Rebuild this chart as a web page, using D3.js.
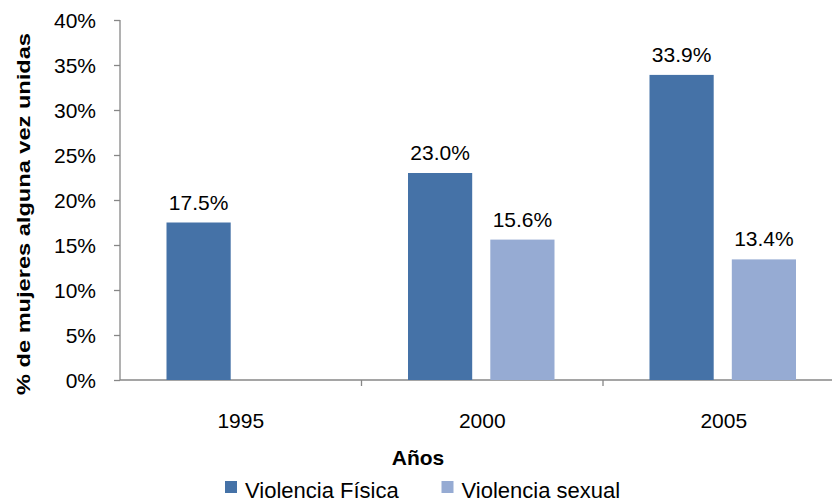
<!DOCTYPE html>
<html>
<head>
<meta charset="utf-8">
<style>
    body { margin: 0; background: white; }
    svg { display: block; font-family: "Liberation Sans", Arial, sans-serif; }
    .axis path, .axis line { stroke: #878787; stroke-width: 1.3; }
    .axis text { fill: #000; font-size: 21px; }
</style>
</head>
<body>
<svg width="832" height="499"></svg>
<script src="https://d3js.org/d3.v7.min.js"></script>
<script>
    var years = ["1995", "2000", "2005"];
    var series = ["Violencia Física", "Violencia sexual"];
    var fisica = [17.5, 23.0, 33.9];
    var sexual = [null, 15.6, 13.4];
    var yTicks = [0, 5, 10, 15, 20, 25, 30, 35, 40];
    var colors = ["#4572a7", "#96abd3"];

    var svg = d3.select("svg");

    var plotLeft = 120, plotBottom = 380, plotTop = 20, plotRight = 844.5;

    var xScale = d3.scaleBand().domain(years).range([plotLeft, plotRight]);
    var inner = d3.scaleBand().domain(series).range([46.5, 193]).paddingInner(0.22);
    var yScale = d3.scaleLinear().domain([0, 40]).range([plotBottom, plotTop]);

    var rows = years.map(function(y, i) {
        return { year: y, values: [fisica[i], sexual[i]] };
    });

    // y axis
    var yAxis = d3.axisLeft(yScale)
        .tickValues(yTicks)
        .tickSize(6)
        .tickPadding(18)
        .tickFormat(function(d) { return d + "%"; });
    var gy = svg.append("g").attr("class", "axis")
        .attr("transform", "translate(" + plotLeft + ",0)")
        .call(yAxis);
    gy.select(".domain").attr("d", "M0," + plotTop + "V" + plotBottom);
    gy.selectAll("text").attr("dy", "0.36em");

    // x axis (ticks at category boundaries)
    var gx = svg.append("g").attr("class", "axis")
        .attr("transform", "translate(0," + plotBottom + ")");
    gx.append("line").attr("x1", plotLeft).attr("x2", plotRight).attr("y1", 0).attr("y2", 0);
    gx.selectAll("line.tk").data(years)
        .enter().append("line").attr("class", "tk")
        .attr("x1", function(d) { return xScale(d) + xScale.step(); })
        .attr("x2", function(d) { return xScale(d) + xScale.step(); })
        .attr("y1", 0).attr("y2", 6);
    gx.selectAll("text").data(years).enter().append("text")
        .attr("x", function(d) { return xScale(d) + xScale.bandwidth() / 2; })
        .attr("y", 48)
        .attr("text-anchor", "middle")
        .text(function(d) { return d; });

    // bars
    var groups = svg.selectAll(".grp").data(rows).enter().append("g")
        .attr("class", "grp")
        .attr("transform", function(d) { return "translate(" + xScale(d.year) + ",0)"; });

    function present(d) {
        return d.values.map(function(v, i) { return { s: series[i], v: v, i: i }; })
            .filter(function(e) { return e.v != null; });
    }

    groups.selectAll("rect").data(present).enter().append("rect")
        .attr("x", function(d) { return inner(d.s); })
        .attr("width", inner.bandwidth())
        .attr("y", function(d) { return yScale(d.v); })
        .attr("height", function(d) { return plotBottom - yScale(d.v); })
        .attr("fill", function(d) { return colors[d.i]; });

    groups.selectAll("text.lbl").data(present).enter().append("text")
        .attr("class", "lbl")
        .attr("x", function(d) { return inner(d.s) + inner.bandwidth() / 2; })
        .attr("y", function(d) { return yScale(d.v) - 13; })
        .attr("text-anchor", "middle")
        .attr("font-size", 21)
        .text(function(d) { return d.v.toFixed(1) + "%"; });

    // axis titles
    svg.append("text")
        .attr("transform", "translate(30,214) rotate(-90)")
        .attr("text-anchor", "middle")
        .attr("font-weight", "bold")
        .attr("font-size", 19)
        .attr("textLength", 362)
        .attr("lengthAdjust", "spacingAndGlyphs")
        .text("% de mujeres alguna vez unidas");

    svg.append("text")
        .attr("x", 418).attr("y", 465)
        .attr("text-anchor", "middle")
        .attr("font-weight", "bold")
        .attr("font-size", 21)
        .text("Años");

    // legend
    var legX = [225, 441.5];
    var leg = svg.selectAll(".leg").data(series).enter().append("g")
        .attr("class", "leg")
        .attr("transform", function(d, i) { return "translate(" + legX[i] + ",481)"; });
    leg.append("rect").attr("width", 12).attr("height", 12)
        .attr("fill", function(d, i) { return colors[i]; });
    leg.append("text").attr("x", 20).attr("y", 17)
        .attr("font-size", 22)
        .text(function(d) { return d; });
</script>
</body>
</html>
